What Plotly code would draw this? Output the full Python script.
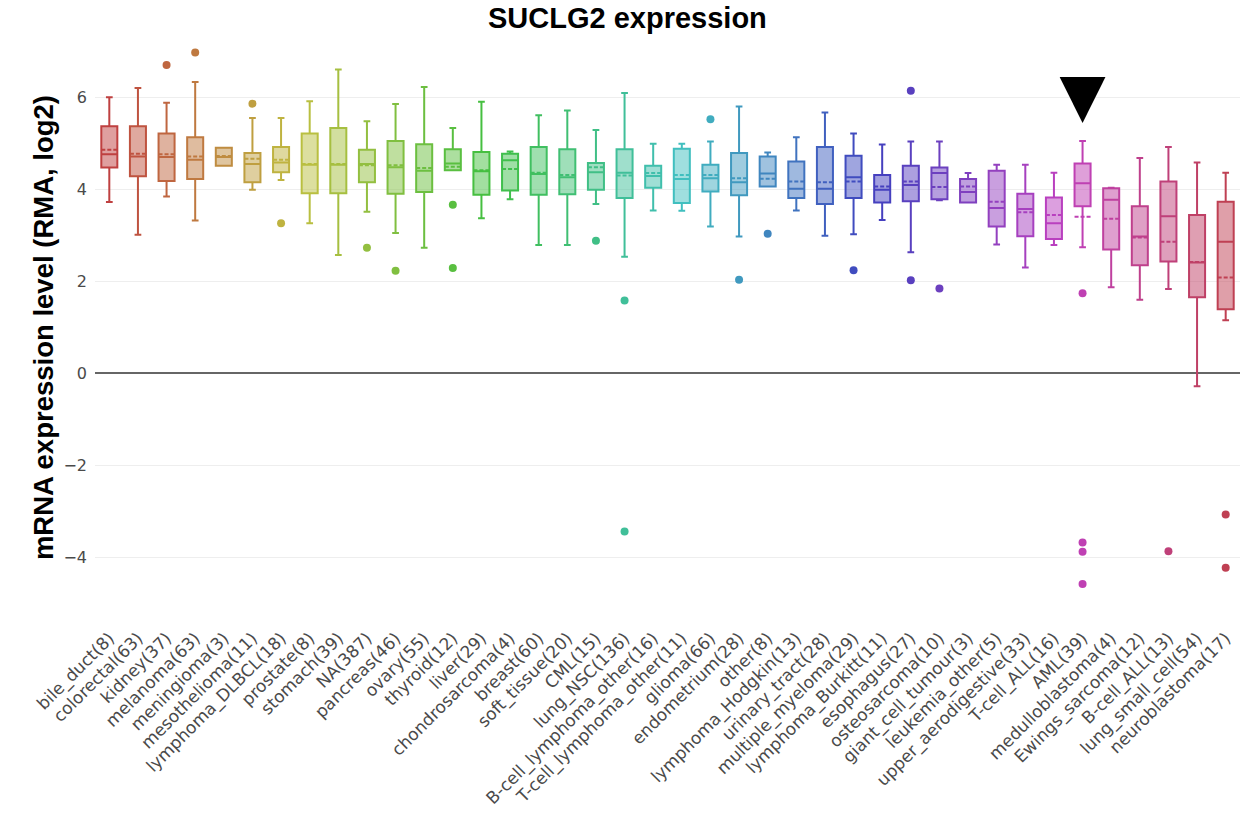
import plotly.graph_objects as go

# Cell-line groups (sample counts in brackets) and their box statistics
labels = [
    "bile_duct(8)", "colorectal(63)", "kidney(37)", "melanoma(63)", "meningioma(3)",
    "mesothelioma(11)", "lymphoma_DLBCL(18)", "prostate(8)", "stomach(39)", "NA(387)",
    "pancreas(46)", "ovary(55)", "thyroid(12)", "liver(29)", "chondrosarcoma(4)",
    "breast(60)", "soft_tissue(20)", "CML(15)", "lung_NSC(136)", "B-cell_lymphoma_other(16)",
    "T-cell_lymphoma_other(11)", "glioma(66)", "endometrium(28)", "other(8)", "lymphoma_Hodgkin(13)",
    "urinary_tract(28)", "multiple_myeloma(29)", "lymphoma_Burkitt(11)", "esophagus(27)", "osteosarcoma(10)",
    "giant_cell_tumour(3)", "leukemia_other(5)", "upper_aerodigestive(33)", "T-cell_ALL(16)", "AML(39)",
    "medulloblastoma(4)", "Ewings_sarcoma(12)", "B-cell_ALL(13)", "lung_small_cell(54)", "neuroblastoma(17)",
]

upper_fence = [
    6.00, 6.20, 5.88, 6.33, 4.90, 5.55, 5.55, 5.91, 6.60, 5.48,
    5.85, 6.22, 5.33, 5.90, 4.82, 5.61, 5.71, 5.29, 6.09, 4.99,
    4.99, 5.04, 5.80, 4.80, 5.13, 5.67, 5.21, 4.97, 5.04, 5.04,
    4.35, 4.53, 4.53, 4.36, 5.05, 4.03, 4.68, 4.92, 4.58, 4.36,
]
q3 = [
    5.37, 5.37, 5.21, 5.13, 4.90, 4.79, 4.92, 5.21, 5.33, 4.86,
    5.05, 4.98, 4.87, 4.81, 4.77, 4.92, 4.87, 4.57, 4.87, 4.51,
    4.88, 4.53, 4.79, 4.71, 4.60, 4.92, 4.73, 4.31, 4.51, 4.47,
    4.22, 4.40, 3.90, 3.82, 4.56, 4.02, 3.63, 4.17, 3.44, 3.73,
]
median = [
    4.76, 4.71, 4.70, 4.64, 4.70, 4.55, 4.58, 4.53, 4.53, 4.55,
    4.48, 4.40, 4.56, 4.39, 4.63, 4.33, 4.26, 4.37, 4.36, 4.29,
    4.22, 4.24, 4.15, 4.34, 4.01, 4.01, 4.26, 3.99, 4.09, 4.35,
    3.94, 3.59, 3.57, 3.26, 4.13, 3.77, 2.97, 3.41, 2.41, 2.86,
]
mean = [
    4.86, 4.77, 4.76, 4.71, 4.72, 4.66, 4.64, 4.55, 4.55, 4.52,
    4.52, 4.46, 4.49, 4.41, 4.44, 4.36, 4.31, 4.48, 4.30, 4.35,
    4.31, 4.31, 4.24, 4.23, 4.17, 4.15, 4.17, 4.06, 4.17, 4.05,
    4.06, 3.73, 3.50, 3.44, 3.40, 3.36, 2.95, 2.86, 2.42, 2.08,
]
q1 = [
    4.47, 4.28, 4.18, 4.22, 4.51, 4.15, 4.37, 3.91, 3.91, 4.15,
    3.90, 3.94, 4.41, 3.88, 3.97, 3.88, 3.89, 3.99, 3.81, 4.03,
    3.70, 3.95, 3.87, 4.06, 3.81, 3.68, 3.81, 3.71, 3.74, 3.78,
    3.71, 3.19, 2.98, 2.92, 3.63, 2.69, 2.35, 2.43, 1.65, 1.39,
]
lower_fence = [
    3.72, 3.01, 3.84, 3.32, 4.51, 3.99, 4.20, 3.26, 2.57, 3.51,
    3.05, 2.73, 4.41, 3.37, 3.78, 2.79, 2.79, 3.68, 2.53, 3.54,
    3.53, 3.19, 2.97, 4.06, 3.54, 2.99, 3.02, 3.33, 2.63, 3.76,
    3.71, 2.80, 2.30, 2.79, 2.74, 1.87, 1.60, 1.83, -0.28, 1.15,
]
outliers = [
    [], [], [6.70], [6.97], [],
    [5.86], [3.26], [], [], [2.73],
    [2.23], [], [3.66, 2.29], [], [],
    [], [], [2.88], [1.58, -3.44], [],
    [], [5.52], [2.03], [3.03], [],
    [], [2.24], [], [6.14, 2.02], [1.84],
    [], [], [], [], [1.74, -3.68, -3.88, -4.58],
    [], [], [-3.87], [], [-3.07, -4.23],
]

highlight = "AML(39)"

n = len(labels)
positions = list(range(n))
colors = [f"hsl({i * 360 / n:.1f},50%,50%)" for i in range(n)]

fig = go.Figure()

for i, lab in enumerate(labels):
    fig.add_trace(go.Box(
        x=[positions[i]],
        q1=[q1[i]], median=[median[i]], q3=[q3[i]],
        lowerfence=[lower_fence[i]], upperfence=[upper_fence[i]],
        mean=[mean[i]],
        boxmean=True,
        name=lab,
        width=0.56,
        whiskerwidth=0.42,
        line=dict(color=colors[i], width=2),
        showlegend=False,
        boxpoints=False,
    ))
    if outliers[i]:
        fig.add_trace(go.Scatter(
            x=[positions[i]] * len(outliers[i]),
            y=outliers[i],
            mode="markers",
            marker=dict(color=colors[i], size=8),
            showlegend=False,
            hoverinfo="y",
        ))

# Marker triangle pointing at the highlighted group
hx = labels.index(highlight)
fig.add_shape(
    type="path",
    xref="x", yref="y",
    path=f"M {hx - 0.8} 6.44 L {hx + 0.8} 6.44 L {hx} 5.44 Z",
    fillcolor="black",
    line=dict(color="black", width=0),
)

fig.add_annotation(
    text="<b>mRNA expression level (RMA, log2)</b>",
    xref="paper", yref="paper",
    x=-0.0455, y=0.510,
    xanchor="center", yanchor="middle",
    textangle=-90,
    showarrow=False,
    font=dict(family="Liberation Sans, Arial, sans-serif", size=27.5, color="black"),
)

fig.update_layout(
    width=1240,
    height=817,
    margin=dict(l=95, r=0, t=42, b=193),
    paper_bgcolor="white",
    plot_bgcolor="white",
    title=dict(
        text="<b>SUCLG2 expression</b>",
        x=0.506, xref="container", xanchor="center",
        y=0.978, yref="container", yanchor="middle",
        font=dict(family="Liberation Sans, Arial, sans-serif", size=29, color="black"),
    ),
    font=dict(family="DejaVu Sans, Verdana, sans-serif", size=16, color="#4a4a4a"),
    xaxis=dict(
        tickmode="array",
        tickvals=positions,
        ticktext=labels,
        tickangle=-45,
        range=[-0.5, n - 0.5],
        showgrid=False,
        zeroline=False,
        showline=False,
        ticks="",
        automargin=False,
        tickfont=dict(family="DejaVu Sans, Verdana, sans-serif", size=17, color="#4a4a4a"),
    ),
    yaxis=dict(
        range=[-5.45, 7.2],
        tickmode="linear",
        tick0=0,
        dtick=2,
        showgrid=True,
        gridcolor="#eeeeee",
        gridwidth=1,
        zeroline=True,
        zerolinecolor="#666666",
        zerolinewidth=1.5,
        showline=False,
        ticks="",
        ticklabelstandoff=7,
        automargin=False,
        tickfont=dict(family="DejaVu Sans, Verdana, sans-serif", size=16, color="#4a4a4a"),
    ),
)

fig.write_html("out.html")
